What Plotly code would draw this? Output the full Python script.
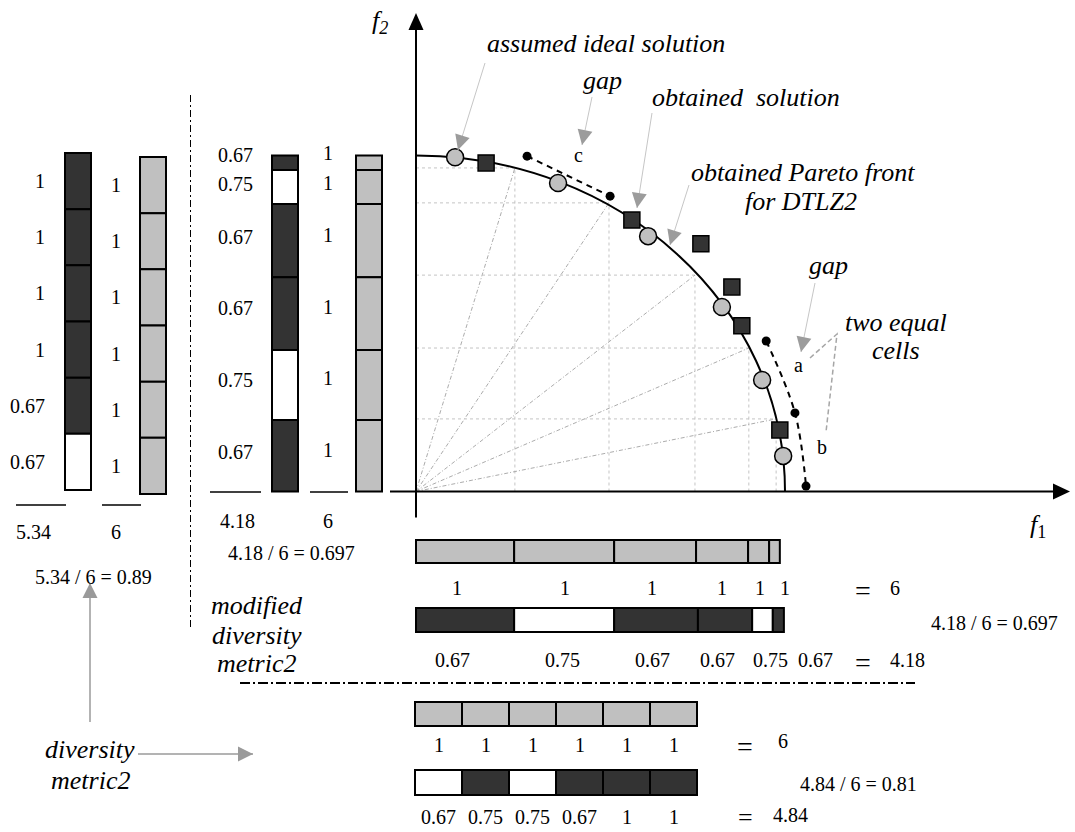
import plotly.graph_objects as go

W, H = 1075, 832
FONT = "Liberation Serif, Times New Roman, serif"

# ======================= data =======================
# objective space (normalised units: DTLZ2 front meets both axes at 1)
ideal_f1 = [0.106, 0.385, 0.629, 0.829, 0.938, 0.995]
ideal_f2 = [0.995, 0.918, 0.760, 0.549, 0.332, 0.106]
obtained_f1 = [0.190, 0.585, 0.772, 0.856, 0.883, 0.986]
obtained_f2 = [0.978, 0.808, 0.737, 0.609, 0.493, 0.183]
gap_c_f1 = [0.301, 0.526]
gap_c_f2 = [0.998, 0.879]
gap_ab_f1 = [0.949, 1.027, 1.057]
gap_ab_f2 = [0.448, 0.234, 0.016]
cell_corner_f1 = [0.268, 0.523, 0.756, 0.902, 0.976]
cell_corner_f2 = [0.963, 0.859, 0.644, 0.427, 0.216]
front_intercept = 1.0

# diversity metric2, vertical pair (top -> bottom)
dm2_v_obtained = [1, 1, 1, 1, 0.67, 0.67]
dm2_v_occupied = [1, 1, 1, 1, 1, 0]
dm2_v_ideal = [1, 1, 1, 1, 1, 1]

# modified diversity metric2, vertical pair (cell edges in f2, top -> bottom)
mdm2_v_edges = [1.0, 0.957, 0.856, 0.638, 0.421, 0.213, 0.0]
mdm2_v_obtained = [0.67, 0.75, 0.67, 0.67, 0.75, 0.67]
mdm2_v_occupied = [1, 0, 1, 1, 0, 1]
mdm2_v_ideal = [1, 1, 1, 1, 1, 1]

# modified diversity metric2, horizontal pair (cell edges in f1, left -> right)
mdm2_h_edges_ideal = [0.0, 0.266, 0.537, 0.759, 0.900, 0.957, 0.986]
mdm2_h_edges_obtained = [0.0, 0.266, 0.537, 0.764, 0.911, 0.967, 0.997]
mdm2_h_ideal = [1, 1, 1, 1, 1, 1]
mdm2_h_obtained = [0.67, 0.75, 0.67, 0.67, 0.75, 0.67]
mdm2_h_occupied = [1, 0, 1, 1, 0, 1]

# diversity metric2, horizontal pair (left -> right)
dm2_h_ideal = [1, 1, 1, 1, 1, 1]
dm2_h_obtained = [0.67, 0.75, 0.75, 0.67, 1, 1]
dm2_h_occupied = [0, 1, 0, 1, 1, 1]

# ======================= layout geometry (pixels) =======================
ORIGIN_X, ORIGIN_Y = 416, 491.5
SX, SY = 369, 336
DARK, LIGHT, WHITE = "#333333", "#c0c0c0", "#ffffff"

shapes, annotations = [], []


def fmt(v):
    return f"{v:g}" if float(v).is_integer() else f"{v:.2f}"


def line(x0, y0, x1, y1, xref="x", yref="y", color="black", width=1.5, dash="solid", layer="above"):
    shapes.append(dict(type="line", x0=x0, y0=y0, x1=x1, y1=y1, xref=xref, yref=yref,
                       layer=layer, line=dict(color=color, width=width, dash=dash)))


def rect(x0, y0, x1, y1, fill, xref="x", yref="y"):
    shapes.append(dict(type="rect", x0=x0, y0=y0, x1=x1, y1=y1, xref=xref, yref=yref,
                       fillcolor=fill, line=dict(color="black", width=2), layer="above"))


def text(x, y, s, size=20, italic=False, xanchor="center", xref="x", yref="y"):
    if italic:
        s = "<i>" + s + "</i>"
    annotations.append(dict(x=x, y=y, text=s, xref=xref, yref=yref, showarrow=False,
                            xanchor=xanchor, yanchor="middle",
                            font=dict(family=FONT, size=size, color="black")))


def arrow(tail, tip, shaft="#c6c6c6", head="#9c9c9c", width=1.0, headw=1.5, size=2.0):
    # light shaft + darker notched head
    line(tail[0], tail[1], tip[0], tip[1], color=shaft, width=width)
    dx, dy = tip[0] - tail[0], tip[1] - tail[1]
    d = (dx * dx + dy * dy) ** 0.5
    bx, by = tip[0] - dx / d * 10, tip[1] - dy / d * 10
    annotations.append(dict(x=tip[0], y=tip[1], ax=bx, ay=by, xref="x", yref="y",
                            axref="x", ayref="y", text="", showarrow=True, arrowhead=2,
                            arrowsize=size, arrowwidth=headw, arrowcolor=head, standoff=0,
                            startstandoff=0))


fill_of = lambda occ: DARK if occ else WHITE

# ---------------- objective space ----------------
for c1, c2 in zip(cell_corner_f1, cell_corner_f2):
    line(c1, 0, c1, c2, "x2", "y2", "#c4c4c4", 1, "dot", "below")
    line(0, c2, c1, c2, "x2", "y2", "#c4c4c4", 1, "dot", "below")
    line(0, 0, c1, c2, "x2", "y2", "#acacac", 1, "4px,2px,1px,2px", "below")

k = 0.5523 * front_intercept
e = front_intercept
shapes.append(dict(type="path", xref="x2", yref="y2", layer="below",
                   path=f"M 0,{e} C {k},{e} {e},{k} {e},0",
                   line=dict(color="black", width=2)))

# axes
line(0, ORIGIN_Y + 26, 0, 28, "x2", "y", "black", 2)
line(ORIGIN_X - 26, 0, 1055, 0, "x", "y2", "black", 2)
shapes.append(dict(type="path", xref="x", yref="y", fillcolor="black", line=dict(width=0),
                   path=f"M {ORIGIN_X},13 L {ORIGIN_X-7.5},30 L {ORIGIN_X+7.5},30 Z"))
shapes.append(dict(type="path", xref="x", yref="y", fillcolor="black", line=dict(width=0),
                   path=f"M 1070,{ORIGIN_Y} L 1053,{ORIGIN_Y-8} L 1053,{ORIGIN_Y+8} Z"))

traces = [
    go.Scatter(x=gap_c_f1, y=gap_c_f2, mode="lines", xaxis="x2", yaxis="y2",
               line=dict(color="black", width=2, dash="6px,5px")),
    go.Scatter(x=gap_ab_f1, y=gap_ab_f2, mode="lines", xaxis="x2", yaxis="y2",
               line=dict(color="black", width=2, dash="6px,5px", shape="spline")),
    go.Scatter(x=gap_c_f1 + gap_ab_f1, y=gap_c_f2 + gap_ab_f2, mode="markers",
               xaxis="x2", yaxis="y2", marker=dict(color="black", size=9)),
    go.Scatter(x=ideal_f1, y=ideal_f2, mode="markers", xaxis="x2", yaxis="y2",
               marker=dict(symbol="circle", size=17, color=LIGHT,
                           line=dict(color="black", width=1.5))),
    go.Scatter(x=obtained_f1, y=obtained_f2, mode="markers", xaxis="x2", yaxis="y2",
               marker=dict(symbol="square", size=16, color=DARK,
                           line=dict(color="black", width=1.5))),
]

text(380, 22, "<i>f</i><sub><i>2</i></sub>", 26)
text(1038, 526, "<i>f</i><sub>1</sub>", 26)
text(578, 155, "c", 20)
text(798, 365, "a", 20)
text(822, 447, "b", 20)

# callouts
text(606, 43, "assumed ideal solution", 26, True)
text(602, 80, "gap", 26, True)
text(746, 97, "obtained\u00a0 solution", 26, True)
text(803, 172, "obtained Pareto front", 26, True)
text(801, 201, "for DTLZ2", 26, True)
text(828, 265, "gap", 26, True)
text(896, 322, "two equal", 26, True)
text(896, 350, "cells", 26, True)
arrow((485, 63), (458, 150))
arrow((592, 97), (582, 145))
arrow((652, 113), (637, 208))
arrow((689, 185), (670, 245))
arrow((815, 283), (801, 352))
shapes.append(dict(type="path", xref="x", yref="y", layer="above",
                   path="M 810,358 L 837,334 L 826,432",
                   line=dict(color="#a6a6a6", width=1.5, dash="5px,3px")))

# ---------------- diversity metric2, vertical ----------------
n = len(dm2_v_obtained)
top, bot = 153, 490
hgt = (bot - top) / n
for i, (v, occ) in enumerate(zip(dm2_v_obtained, dm2_v_occupied)):
    rect(65, top + i * hgt, 91, top + (i + 1) * hgt, fill_of(occ))
    text(47, top + (i + 0.5) * hgt, fmt(v), 20, xanchor="right")
top2, bot2 = 157, 494
hgt2 = (bot2 - top2) / len(dm2_v_ideal)
for i, v in enumerate(dm2_v_ideal):
    rect(140, top2 + i * hgt2, 166, top2 + (i + 1) * hgt2, LIGHT)
    text(116, top2 + (i + 0.5) * hgt2, fmt(v), 20)
line(16, 505, 66, 505, width=1.5)
line(102, 505, 141, 505, width=1.5)
s_o, s_i = sum(dm2_v_obtained), sum(dm2_v_ideal)
text(33, 532, f"{s_o:.2f}", 20)
text(116, 532, f"{s_i:g}", 20)
text(93, 577, f"{s_o:.2f} / {s_i:g} = {s_o / s_i:.2f}", 20)

# ---------------- modified diversity metric2, vertical ----------------
mid_left_label_y = [155, 184, 237, 308, 380, 452]
mid_right_label_y = [153, 183, 235, 307, 378, 450]
for i, (v, occ) in enumerate(zip(mdm2_v_obtained, mdm2_v_occupied)):
    rect(272, mdm2_v_edges[i + 1], 298, mdm2_v_edges[i], fill_of(occ), "x", "y2")
    text(235, mid_left_label_y[i], fmt(v), 20)
for i, v in enumerate(mdm2_v_ideal):
    rect(356, mdm2_v_edges[i + 1], 382, mdm2_v_edges[i], LIGHT, "x", "y2")
    text(328, mid_right_label_y[i], fmt(v), 20)
line(210, 492, 261, 492, width=1.5)
line(310, 492, 348, 492, width=1.5)
m_o, m_i = sum(mdm2_v_obtained), sum(mdm2_v_ideal)
text(237, 521, f"{m_o:.2f}", 20)
text(328, 521, f"{m_i:g}", 20)
text(291, 553, f"{m_o:.2f} / {m_i:g} = {m_o / m_i:.3f}", 20)

# ---------------- modified diversity metric2, horizontal ----------------
row1_label_x = [457, 565, 652, 722, 760, 785]
row2_label_x = [452, 562, 652, 717, 770, 815]
for i, v in enumerate(mdm2_h_ideal):
    rect(mdm2_h_edges_ideal[i], 540, mdm2_h_edges_ideal[i + 1], 563, LIGHT, "x2", "y")
    text(row1_label_x[i], 588, fmt(v), 20)
for i, (v, occ) in enumerate(zip(mdm2_h_obtained, mdm2_h_occupied)):
    rect(mdm2_h_edges_obtained[i], 608, mdm2_h_edges_obtained[i + 1], 632, fill_of(occ), "x2", "y")
    text(row2_label_x[i], 660, fmt(v), 20)
h_o, h_i = sum(mdm2_h_obtained), sum(mdm2_h_ideal)
text(863, 590, "=", 28)
text(895, 588, f"{h_i:g}", 20)
text(994, 623, f"{h_o:.2f} / {h_i:g} = {h_o / h_i:.3f}", 20)
text(863, 662, "=", 28)
text(907, 660, f"{h_o:.2f}", 20)
text(257, 605, "modified", 26, True)
text(257, 635, "diversity", 26, True)
text(256, 663, "metric2", 26, True)

# ---------------- diversity metric2, horizontal ----------------
x_left, x_right = 415, 697
cw = (x_right - x_left) / len(dm2_h_ideal)
for i, v in enumerate(dm2_h_ideal):
    rect(x_left + i * cw, 702, x_left + (i + 1) * cw, 726, LIGHT)
    text(x_left + (i + 0.5) * cw, 745, fmt(v), 20)
for i, (v, occ) in enumerate(zip(dm2_h_obtained, dm2_h_occupied)):
    rect(x_left + i * cw, 770, x_left + (i + 1) * cw, 795, fill_of(occ))
    text(x_left + (i + 0.5) * cw, 817, fmt(v), 20)
b_o, b_i = sum(dm2_h_obtained), sum(dm2_h_ideal)
text(745, 746, "=", 28)
text(783, 741, f"{b_i:g}", 20)
text(858, 784, f"{b_o:.2f} / {b_i:g} = {b_o / b_i:.2f}", 20)
text(745, 817, "=", 26)
text(790, 815, f"{b_o:.2f}", 20)
text(90, 749, "diversity", 26, True)
text(90, 780, "metric2", 26, True)
arrow((138, 754), (253, 754), shaft="#9a9a9a", head="#9a9a9a", width=1.5, headw=1.5)
arrow((90, 722), (90, 583), shaft="#9a9a9a", head="#9a9a9a", width=1.5, headw=1.5)

# separators
line(190.5, 95, 190.5, 628, color="black", width=1, dash="7px,3px,2px,3px")
line(240, 683, 915, 683, color="black", width=2, dash="10px,3px,2px,3px")

fig = go.Figure(traces)
fig.update_layout(
    width=W, height=H, margin=dict(l=0, r=0, t=0, b=0),
    paper_bgcolor="white", plot_bgcolor="white", showlegend=False,
    xaxis=dict(range=[0, W], domain=[0, 1], visible=False, fixedrange=True),
    yaxis=dict(range=[H, 0], domain=[0, 1], visible=False, fixedrange=True),
    xaxis2=dict(range=[-ORIGIN_X / SX, (W - ORIGIN_X) / SX], overlaying="x",
                visible=False, fixedrange=True),
    yaxis2=dict(range=[-(H - ORIGIN_Y) / SY, ORIGIN_Y / SY], overlaying="y",
                visible=False, fixedrange=True),
    shapes=shapes, annotations=annotations,
)
fig.write_html("out.html", config={"displayModeBar": False},
               post_script="document.body.style.margin='0px';")
